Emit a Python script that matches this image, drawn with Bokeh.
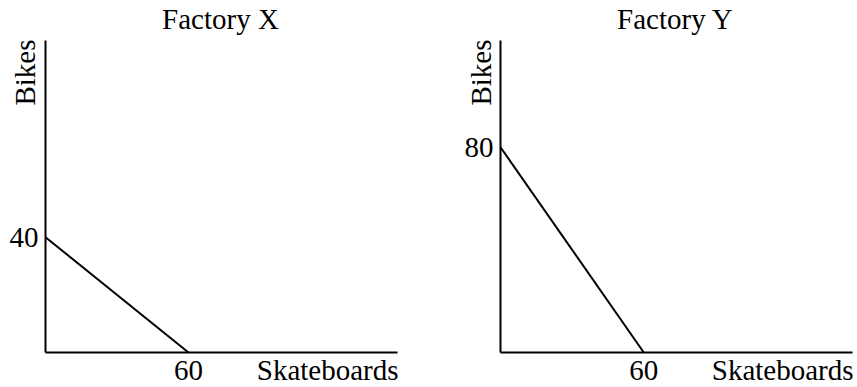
import math
from bokeh.plotting import figure
from bokeh.layouts import row
from bokeh.models import Label, Range1d
from bokeh.embed import file_html
from bokeh.resources import INLINE

# ---- data ----
factories = ["Factory X", "Factory Y"]
max_skateboards = [60, 60]
max_bikes = [40, 80]
x_axis_title = "Skateboards"
y_axis_title = "Bikes"

# ---- style / layout (pixels) ----
FONT = "Liberation Serif"
FS = "29px"
H = 387
AXIS_W, AXIS_H = 352, 312
panels = [
    dict(width=430, ox=45, oy=352, ppx=143.0 / 60, ppy=115.3 / 40, ytx=-21),
    dict(width=427, ox=70, oy=352, ppx=143.3 / 60, ppy=205.3 / 80, ytx=-20),
]


def make_panel(name, sk, bk, cfg):
    dx = 1.0 / cfg["ppx"]
    dy = 1.0 / cfg["ppy"]
    x0 = -cfg["ox"] * dx
    x1 = (cfg["width"] - cfg["ox"]) * dx
    y0 = -(H - cfg["oy"]) * dy
    y1 = cfg["oy"] * dy
    p = figure(width=cfg["width"], height=H, output_backend="svg",
               toolbar_location=None,
               x_range=Range1d(x0, x1), y_range=Range1d(y0, y1),
               min_border=0, x_axis_type=None, y_axis_type=None)
    p.outline_line_color = None
    p.grid.visible = False
    p.background_fill_color = "white"
    p.border_fill_color = "white"

    # axes lines
    p.line([0, AXIS_W * dx], [0, 0], line_color="black", line_width=2)
    p.line([0, 0], [0, AXIS_H * dy], line_color="black", line_width=2)
    # production possibilities frontier
    p.line([0, sk], [bk, 0], line_color="black", line_width=2)

    common = dict(text_font=FONT, text_font_size=FS, text_color="black",
                  text_baseline="middle")
    # title
    p.add_layout(Label(x=175 * dx, y=333.5 * dy, text=name,
                       text_align="center", **common))
    # y axis title (rotated)
    p.add_layout(Label(x=cfg["ytx"] * dx, y=313 * dy, text=y_axis_title,
                       angle=math.pi / 2, angle_units="rad",
                       text_align="right", **common))
    # x axis title
    p.add_layout(Label(x=(AXIS_W + 1) * dx, y=-17.5 * dy, text=x_axis_title,
                       text_align="right", **common))
    # tick labels
    p.add_layout(Label(x=-7 * dx, y=bk, text=str(bk),
                       text_align="right", **common))
    p.add_layout(Label(x=sk, y=-17.5 * dy, text=str(sk),
                       text_align="center", **common))
    return p


plots = [make_panel(n, s, b, c) for n, s, b, c in zip(factories, max_skateboards, max_bikes, panels)]
layout = row(*plots, spacing=0)

open("out.html", "w").write(file_html(layout, INLINE))
